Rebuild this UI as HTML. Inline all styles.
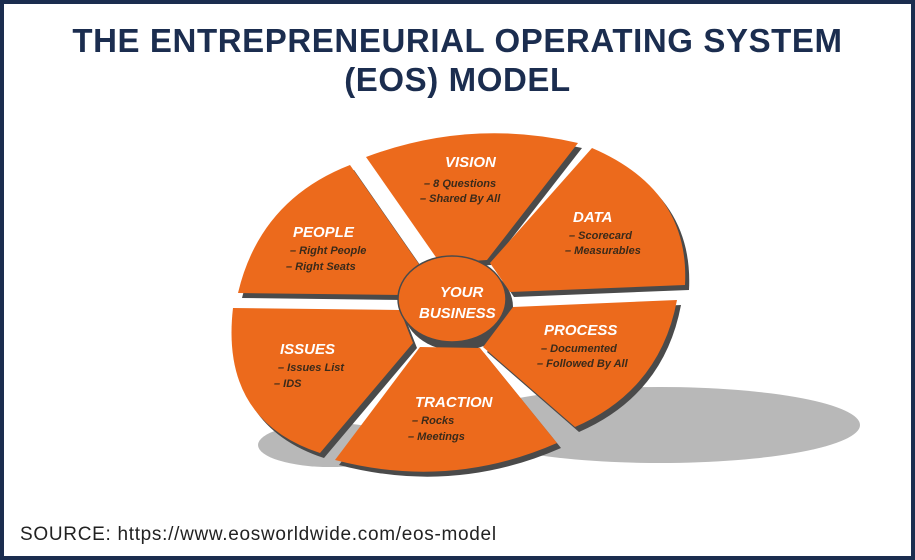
<!DOCTYPE html>
<html><head><style>
html,body{margin:0;padding:0;background:#fff}
.wrap{position:relative;width:915px;height:560px;box-sizing:border-box;border:4px solid #1b2d4f;overflow:hidden}
h1{position:absolute;left:0;right:0;top:17px;margin:0;text-align:center;font:bold 33px/39px "Liberation Sans",sans-serif;color:#1b2d4f;letter-spacing:0.6px}
.src{position:absolute;left:16px;top:520px;font:19px "Liberation Sans",sans-serif;color:#222;letter-spacing:0.7px}
svg{position:absolute;left:0;top:0}
.h{font:italic bold 15px "Liberation Sans",sans-serif;fill:#fff}
.s{font:italic bold 11px "Liberation Sans",sans-serif;fill:#3a2a1a}
</style></head><body><div class="wrap">
<h1>THE ENTREPRENEURIAL OPERATING SYSTEM<br>(EOS) MODEL</h1>
<svg width="915" height="560" viewBox="4 4 915 560">
<g fill="#b8b8b8">
<ellipse cx="660" cy="425" rx="200" ry="38"/>
<ellipse cx="330" cy="445" rx="72" ry="22"/>
</g>
<g fill="#4a4a4a" transform="translate(4,5)">
<path d="M366,157 Q470,118 578,143 L487,260 L440,263 Z"/>
<path d="M592,148 Q690,190 685,285 L510,292 L490,263 Z"/>
<path d="M513,307 L677,300 Q660,390 575,427 L483,347 Z"/>
<path d="M420,347 L480,348 L557,443 Q450,490 335,460 Z"/>
<path d="M400,310 L233,308 Q220,420 320,453 L413,343 Z"/>
<path d="M238,293 Q260,200 350,165 L423,270 L402,295 Z"/>
<ellipse cx="454" cy="302" rx="55" ry="44"/>
</g>
<g fill="#ec6a1c">
<path d="M366,157 Q470,118 578,143 L487,260 L440,263 Z"/>
<path d="M592,148 Q690,190 685,285 L510,292 L490,263 Z"/>
<path d="M513,307 L677,300 Q660,390 575,427 L483,347 Z"/>
<path d="M420,347 L480,348 L557,443 Q450,490 335,460 Z"/>
<path d="M400,310 L233,308 Q220,420 320,453 L413,343 Z"/>
<path d="M238,293 Q260,200 350,165 L423,270 L402,295 Z"/>
<ellipse cx="452" cy="299" rx="54" ry="43" stroke="#4a4a4a" stroke-width="1.5"/>
</g>
<text class="h" x="445" y="167">VISION</text>
<text class="s" x="424" y="187">– 8 Questions</text>
<text class="s" x="420" y="202">– Shared By All</text>
<text class="h" x="573" y="222">DATA</text>
<text class="s" x="569" y="239">– Scorecard</text>
<text class="s" x="565" y="254">– Measurables</text>
<text class="h" x="293" y="237">PEOPLE</text>
<text class="s" x="290" y="254">– Right People</text>
<text class="s" x="286" y="270">– Right Seats</text>
<text class="h" x="440" y="297">YOUR</text>
<text class="h" x="419" y="318">BUSINESS</text>
<text class="h" x="544" y="335">PROCESS</text>
<text class="s" x="541" y="352">– Documented</text>
<text class="s" x="537" y="367">– Followed By All</text>
<text class="h" x="280" y="354">ISSUES</text>
<text class="s" x="278" y="371">– Issues List</text>
<text class="s" x="274" y="387">– IDS</text>
<text class="h" x="415" y="407">TRACTION</text>
<text class="s" x="412" y="424">– Rocks</text>
<text class="s" x="408" y="440">– Meetings</text>
</svg>
<div class="src">SOURCE: https://www.eosworldwide.com/eos-model</div>
</div></body></html>
